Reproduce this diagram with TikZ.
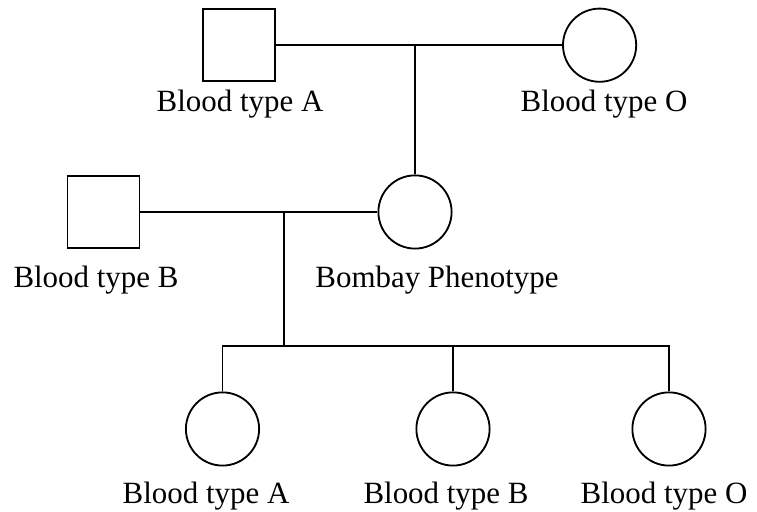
\documentclass[tikz,border=0pt]{standalone}
\usepackage{fontspec}
\setmainfont{Liberation Serif}
\usetikzlibrary{shapes.geometric}

\begin{document}
\begin{tikzpicture}[
        male/.style = {draw, rectangle, minimum size = 1.8cm, inner sep = 0pt},
        female/.style = {draw, circle, minimum size = 1.83cm, inner sep = 0pt},
        typelabel/.style = {anchor = base, inner sep = 0pt, font = \fontsize{22}{26}\selectfont},
        line width = 1.3pt]
        \useasboundingbox (0, 0) rectangle (18.925, 12.8);

        \node[male] (grandfather) at (5.975, 11.67) {};
        \node[female] (grandmother) at (14.99, 11.67) {};
        \node[male] (father) at (2.5875, 7.5) {};
        \node[female] (mother) at (10.375, 7.5) {};
        \node[female] (childA) at (5.5625, 2.075) {};
        \node[female] (childB) at (11.325, 2.075) {};
        \node[female] (childO) at (16.725, 2.075) {};

        \coordinate (topmate) at (mother.north |- grandfather.east);
        \coordinate (midmate) at (7.1, 7.5);
        \coordinate (sibship) at (7.1, 4.15);

        \draw (grandfather) -- (grandmother);
        \draw (topmate) -- (mother);
        \draw (father) -- (mother);
        \draw (midmate) -- (sibship);
        \draw (childA.north) -- (childA.north |- sibship) -- (childO.north |- sibship) -- (childO.north);
        \draw (childB.north) -- (childB.north |- sibship);

        \node[typelabel] (labelGF) at (6.0, 10.0) {Blood type A};
        \node[typelabel] (labelGM) at (15.1, 10.0) {Blood type O};
        \node[typelabel] (labelF) at (2.4, 5.6) {Blood type B};
        \node[typelabel] (labelM) at (10.925, 5.6) {Bombay Phenotype};
        \node[typelabel] (labelA) at (5.15, 0.2) {Blood type A};
        \node[typelabel] (labelB) at (11.15, 0.2) {Blood type B};
        \node[typelabel] (labelO) at (16.6, 0.2) {Blood type O};
\end{tikzpicture}
\end{document}
